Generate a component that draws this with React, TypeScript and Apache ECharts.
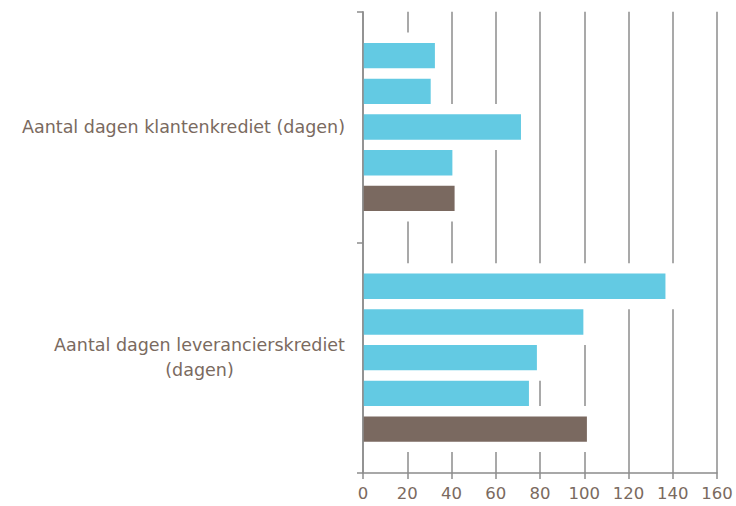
import React, { useEffect, useRef } from "react";
import * as echarts from "echarts";

const categories = [
  "Aantal dagen klantenkrediet (dagen)",
  "Aantal dagen leverancierskrediet\n(dagen)",
];
const seriesNames = ["Reeks 1", "Reeks 2", "Reeks 3", "Reeks 4", "Reeks 5"];
const reeks1 = [32.5, 136.7];
const reeks2 = [30.6, 99.6];
const reeks3 = [71.4, 78.6];
const reeks4 = [40.4, 75.0];
const reeks5 = [41.4, 101.2];
const xTicks = [0, 20, 40, 60, 80, 100, 120, 140, 160];

const seriesValues = [reeks1, reeks2, reeks3, reeks4, reeks5];
const seriesColors = ["#63cae3", "#63cae3", "#63cae3", "#63cae3", "#7a6960"];

const FONT = '"DejaVu Sans", Verdana, sans-serif';
const TEXT = "#7a6a60";
const LINE = "#8c8c8c";
const BAR_W = 0.11;
const BAR_GAP = 0.407;

function measure(text: string, size: number) {
  const c = document.createElement("canvas");
  const ctx = c.getContext("2d")!;
  ctx.font = `${size}px ${FONT}`;
  return ctx.measureText(text).width;
}

export default function App() {
  const ref = useRef<HTMLDivElement>(null);
  useEffect(() => {
    if (!ref.current) return;
    const chart = echarts.init(ref.current, undefined, { renderer: "svg" });
    const labelSize = 17.5;
    const widthOf = (label: string) =>
      Math.ceil(Math.max(...label.split("\n").map((l) => measure(l, labelSize))));
    const n = seriesValues.length;

    const haloData: number[][] = [];
    seriesValues.forEach((vals, s) => vals.forEach((v, c) => haloData.push([v, c, s])));

    const bars = seriesValues.map((vals, s) => ({
      type: "bar",
      name: seriesNames[s],
      data: vals,
      barWidth: `${BAR_W * 100}%`,
      barGap: `${BAR_GAP * 100}%`,
      itemStyle: { color: seriesColors[s] },
      z: 3,
    }));

    const halo = {
      type: "custom",
      z: 2,
      silent: true,
      data: haloData,
      encode: { x: 0, y: 1 },
      renderItem: (params: any, api: any) => {
        const v = api.value(0);
        const c = api.value(1);
        const s = api.value(2);
        const p0 = api.coord([0, c]);
        const p1 = api.coord([v, c]);
        const band = api.size([0, 1])[1];
        const bw = band * BAR_W;
        const gap = bw * BAR_GAP;
        const total = n * bw + (n - 1) * gap;
        const top = p0[1] - total / 2 + s * (bw + gap);
        const pad = gap;
        return {
          type: "rect",
          shape: { x: p0[0] + 1.5, y: top - pad, width: p1[0] - p0[0] + 8, height: bw + 2 * pad },
          style: { fill: "#ffffff" },
        };
      },
    };

    const rich: Record<string, any> = {};
    categories.forEach((c, i) => {
      rich[`c${i}`] = {
        width: widthOf(c),
        align: "center",
        color: TEXT,
        fontFamily: FONT,
        fontSize: labelSize,
        lineHeight: 25,
      };
    });

    chart.setOption({
      animation: false,
      grid: { left: 363, right: 19, top: 11.7, bottom: 33, containLabel: false },
      xAxis: {
        type: "value",
        min: 0,
        max: 160,
        interval: 20,
        axisLine: { show: true, lineStyle: { color: LINE, width: 1.5 } },
        axisTick: { show: true, length: 6, lineStyle: { color: LINE, width: 1.5 } },
        splitLine: { show: true, lineStyle: { color: LINE, width: 1.5 } },
        axisLabel: {
          color: TEXT,
          fontFamily: FONT,
          fontSize: 16.5,
          margin: 12,
          formatter: (v: number) => (xTicks.includes(v) ? String(v) : ""),
        },
      },
      yAxis: {
        type: "category",
        inverse: true,
        data: categories,
        z: 5,
        axisLine: { show: true, lineStyle: { color: LINE, width: 1.5 } },
        axisTick: { show: true, length: 6, lineStyle: { color: LINE, width: 1.5 } },
        axisLabel: {
          color: TEXT,
          fontFamily: FONT,
          fontSize: labelSize,
          margin: 18,
          lineHeight: 25,
          formatter: (v: string, idx: number) =>
            v.includes("\n") ? v.split("\n").map((l) => `{c${idx}|${l}}`).join("\n") : v,
          rich,
        },
      },
      series: [halo, ...bars],
    });
    return () => chart.dispose();
  }, []);
  return <div ref={ref} style={{ width: 736, height: 506, position: "absolute", left: 0, top: 0 }} />;
}
